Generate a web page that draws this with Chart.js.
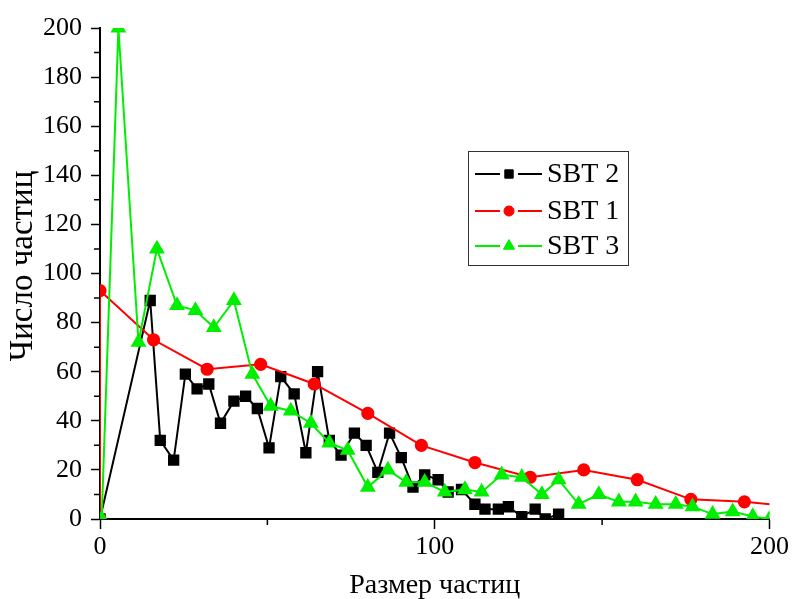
<!DOCTYPE html>
<html>
<head>
<meta charset="utf-8">
<script src="https://cdn.jsdelivr.net/npm/chart.js@4/dist/chart.umd.min.js"></script>
<style>
  html, body { margin: 0; padding: 0; background: #fff; }
  #wrap { width: 792px; height: 599px; }
</style>
</head>
<body>
<div id="wrap"><canvas id="sizeChart"></canvas></div>
<script>
// SBT 2 (black squares)
var sbt2X = [0, 15, 18, 22, 25.5, 29, 32.5, 36, 40, 43.5, 47, 50.5, 54, 58, 61.5, 65, 68.5, 72, 76, 79.5, 83, 86.5, 90, 93.5, 97, 101, 104, 108, 112, 115, 119, 122, 126, 130, 133, 137];
var sbt2Y = [0, 89, 32, 24, 59, 53, 55, 39, 48, 50, 45, 29, 58, 51, 27, 60, 32, 26, 35, 30, 19, 35, 25, 13, 18, 16, 11, 12, 6, 4, 4, 5, 1, 4, 0, 2];

// SBT 1 (red circles)
var sbt1X = [0, 0, 16, 32, 48, 64, 80, 96, 112, 128.5, 144.5, 160.5, 176.5, 192.5, 208.5];
var sbt1Y = [0, 93, 73, 61, 63, 55, 43, 30, 23, 17, 20, 16, 8, 7, 5];

// SBT 3 (green triangles)
var sbt3X = [0.5, 5.5, 11.5, 17, 23, 28.5, 34, 40, 45.5, 51, 57, 63, 68.5, 74, 80, 86, 91.5, 97, 103, 109, 114, 120, 126, 132, 137, 143, 149, 155, 160, 166, 172, 177, 183, 189, 195, 200];
var sbt3Y = [0, 200, 72, 110, 87, 85, 78, 89, 59, 46, 44, 39, 31, 28, 13, 20, 15, 15, 11, 12, 11, 18, 17, 10, 16, 6, 10, 7, 7, 6, 6, 5, 2, 3, 1, 0];

var xTicks = [0, 100, 200];
var yTicks = [0, 20, 40, 60, 80, 100, 120, 140, 160, 180, 200];
var yTitle = "Число частиц";

var serif = "'Liberation Serif', 'Times New Roman', serif";
var green = "#00ee00";

function pts(xs, ys) {
    return xs.map(function (x, i) { return { x: x, y: ys[i] }; });
}

// minor ticks (shorter), y title and the line-marker-line legend box
var extras = {
    id: "extras",
    afterDraw: function (chart) {
        var ctx = chart.ctx;
        var xs = chart.scales.x, ys = chart.scales.y;
        ctx.save();
        ctx.strokeStyle = "#000";
        ctx.lineWidth = 1.5;
        ctx.beginPath();
        for (var v = 10; v < 200; v += 20) {
            var py = ys.getPixelForValue(v);
            ctx.moveTo(xs.left, py);
            ctx.lineTo(xs.left - 6, py);
        }
        [50, 150].forEach(function (v) {
            var px = xs.getPixelForValue(v);
            ctx.moveTo(px, ys.bottom);
            ctx.lineTo(px, ys.bottom + 6);
        });
        ctx.stroke();

        // y title
        ctx.save();
        ctx.translate(23, 266);
        ctx.rotate(-Math.PI / 2);
        ctx.font = "33px " + serif;
        ctx.fillStyle = "#000";
        ctx.textAlign = "center";
        ctx.textBaseline = "middle";
        ctx.fillText(yTitle, 0, 0);
        ctx.restore();

        // legend
        ctx.lineWidth = 1;
        ctx.strokeStyle = "#333";
        ctx.strokeRect(468.5, 151.5, 160, 114);
        var rowsY = [174, 211, 246];
        ctx.font = "28px " + serif;
        ctx.textBaseline = "middle";
        [0, 1, 2].forEach(function (di, r) {
            var ds = chart.data.datasets[di];
            var y = rowsY[r];
            ctx.strokeStyle = ds.borderColor;
            ctx.lineWidth = 2;
            ctx.beginPath();
            ctx.moveTo(475, y); ctx.lineTo(500, y);
            ctx.moveTo(518, y); ctx.lineTo(542, y);
            ctx.stroke();
            ctx.fillStyle = ds.pointBackgroundColor;
            ctx.strokeStyle = ds.pointBackgroundColor;
            ctx.lineWidth = 1;
            Chart.helpers.drawPoint(ctx, {
                pointStyle: ds.pointStyle,
                radius: ds.pointRadius * 0.9,
                borderWidth: 1
            }, 509, y);
            ctx.fillStyle = "#000";
            ctx.fillText(ds.label, 547, y + 1);
        });
        ctx.restore();
    }
};

new Chart("sizeChart", {
    type: "line",
    data: {
        datasets: [{
            label: "SBT 2",
            data: pts(sbt2X, sbt2Y),
            borderColor: "#000",
            backgroundColor: "#000",
            pointBackgroundColor: "#000",
            pointBorderColor: "#000",
            borderWidth: 2,
            pointStyle: "rect",
            pointRadius: 6.6,
            order: 3
        }, {
            label: "SBT 1",
            data: pts(sbt1X, sbt1Y),
            borderColor: "#ff0000",
            backgroundColor: "#ff0000",
            pointBackgroundColor: "#ff0000",
            pointBorderColor: "#ff0000",
            borderWidth: 2,
            pointStyle: "circle",
            pointRadius: 5.6,
            order: 2
        }, {
            label: "SBT 3",
            data: pts(sbt3X, sbt3Y),
            borderColor: green,
            backgroundColor: green,
            pointBackgroundColor: green,
            pointBorderColor: green,
            borderWidth: 2,
            pointStyle: "triangle",
            pointRadius: 7.2,
            order: 1
        }]
    },
    options: {
        responsive: true,
        maintainAspectRatio: false,
        animation: false,
        layout: { padding: { left: 0, right: 22, top: 28, bottom: 0 } },
        plugins: {
            legend: { display: false },
            tooltip: { enabled: false }
        },
        elements: { line: { tension: 0 }, point: { borderWidth: 1 } },
        scales: {
            x: {
                type: "linear",
                min: 0,
                max: 200,
                afterFit: function (s) { s.height = 80; },
                afterBuildTicks: function (s) {
                    s.ticks = xTicks.map(function (v) { return { value: v }; });
                },
                border: { display: true, color: "#000", width: 2 },
                grid: { drawOnChartArea: false, color: "#000", tickLength: 10, tickWidth: 1.5 },
                ticks: {
                    color: "#000",
                    font: { family: serif, size: 26 },
                    padding: 3,
                    maxRotation: 0
                },
                title: {
                    display: true,
                    text: "Размер частиц",
                    color: "#000",
                    font: { family: serif, size: 28 },
                    padding: { top: 0, bottom: -3 }
                }
            },
            y: {
                type: "linear",
                min: 0,
                max: 200,
                afterFit: function (s) { s.width = 100; },
                afterBuildTicks: function (s) {
                    s.ticks = yTicks.map(function (v) { return { value: v }; });
                },
                border: { display: true, color: "#000", width: 2 },
                grid: { drawOnChartArea: false, color: "#000", tickLength: 9, tickWidth: 1.5 },
                ticks: {
                    color: "#000",
                    font: { family: serif, size: 26 },
                    padding: 9
                }
            }
        }
    },
    plugins: [extras]
});
</script>
</body>
</html>
